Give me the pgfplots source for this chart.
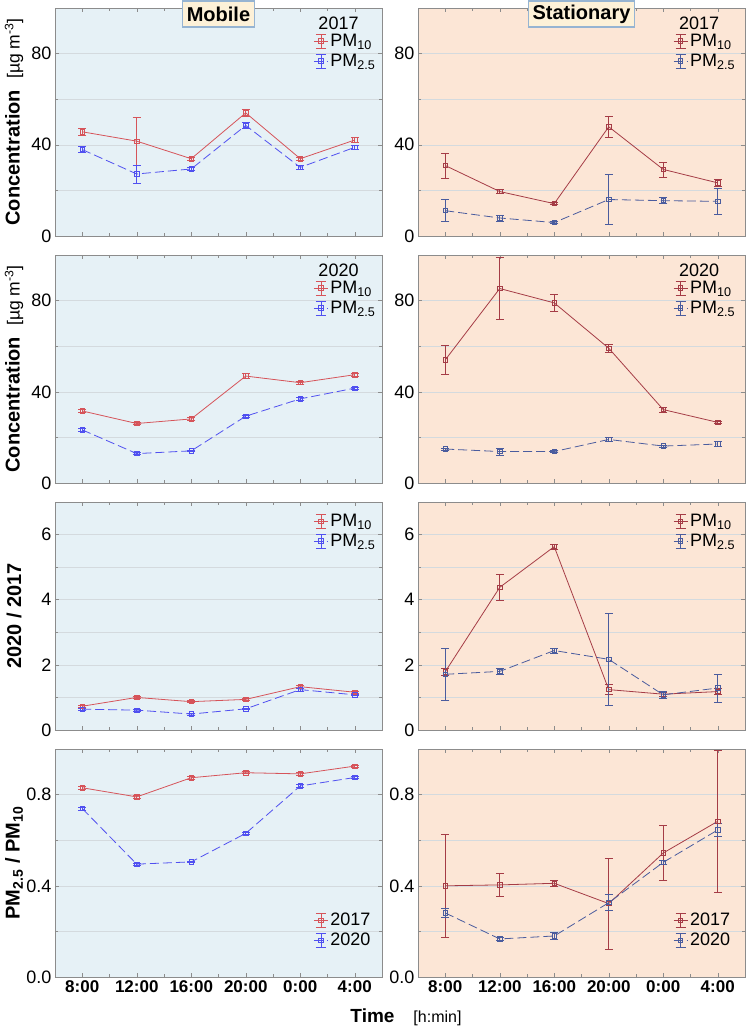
\documentclass[border=0pt]{standalone}
\usepackage{fontspec}
\setmainfont{Liberation Sans}
\usepackage{pgfplots}
\usepackage{pgfplotstable}
\pgfplotsset{compat=1.18}

\definecolor{mred}{RGB}{214,84,90}
\definecolor{mblue}{RGB}{80,80,240}
\definecolor{sred}{RGB}{165,60,70}
\definecolor{sblue}{RGB}{74,92,158}
\definecolor{mbg}{RGB}{230,241,246}
\definecolor{sbg}{RGB}{252,230,214}
\definecolor{gridc}{RGB}{212,218,222}
\definecolor{boxfill}{RGB}{253,241,216}
\definecolor{boxdraw}{RGB}{150,180,210}
\tikzset{dsh/.style={dash pattern=on 9pt off 4pt}}

% ---------- data: x y err ----------
\pgfplotstableread{
x y e
0 45.7 1.5
1 41.6 10.6
2 33.9 0.8
3 54.0 1.5
4 33.9 0.8
5 42.1 1.0
}\mAten
\pgfplotstableread{
x y e
0 37.9 1.3
1 27.2 4.0
2 29.4 0.7
3 48.5 1.5
4 30.1 0.7
5 38.9 0.8
}\mAtwo
\pgfplotstableread{
x y e
0 30.9 5.5
1 19.5 1.0
2 14.2 0.5
3 47.9 4.5
4 29.2 3.3
5 23.3 1.5
}\sAten
\pgfplotstableread{
x y e
0 11.1 4.8
1 7.9 1.3
2 5.9 0.5
3 16.0 11.0
4 15.5 1.3
5 15.2 5.7
}\sAtwo
\pgfplotstableread{
x y e
0 31.6 0.6
1 26.1 0.5
2 28.1 0.5
3 46.9 1.0
4 44.0 0.6
5 47.5 0.6
}\mBten
\pgfplotstableread{
x y e
0 23.3 0.5
1 12.9 0.4
2 14.1 0.4
3 29.3 0.5
4 36.9 0.5
5 41.6 0.5
}\mBtwo
\pgfplotstableread{
x y e
0 54.0 6.4
1 85.3 13.5
2 79.0 3.8
3 59.1 1.8
4 32.2 1.2
5 26.6 0.5
}\sBten
\pgfplotstableread{
x y e
0 14.9 0.5
1 13.8 1.5
2 13.8 0.5
3 19.1 1.0
4 16.2 0.5
5 17.1 1.0
}\sBtwo
\pgfplotstableread{
x y e
0 0.73 0.04
1 1.00 0.03
2 0.87 0.03
3 0.94 0.03
4 1.33 0.04
5 1.16 0.04
}\mCten
\pgfplotstableread{
x y e
0 0.64 0.03
1 0.61 0.03
2 0.49 0.03
3 0.65 0.03
4 1.24 0.04
5 1.08 0.03
}\mCtwo
\pgfplotstableread{
x y e
0 1.79 0.10
1 4.38 0.39
2 5.63 0.07
3 1.24 0.16
4 1.10 0.06
5 1.18 0.10
}\sCten
\pgfplotstableread{
x y e
0 1.71 0.80
1 1.80 0.10
2 2.44 0.08
3 2.17 1.42
4 1.08 0.10
5 1.29 0.43
}\sCtwo
\pgfplotstableread{
x y e
0 0.830 0.005
1 0.790 0.008
2 0.874 0.005
3 0.896 0.004
4 0.891 0.005
5 0.925 0.005
}\mDa
\pgfplotstableread{
x y e
0 0.739 0.006
1 0.495 0.004
2 0.505 0.004
3 0.630 0.004
4 0.838 0.005
5 0.875 0.004
}\mDb
\pgfplotstableread{
x y e
0 0.400 0.227
1 0.404 0.049
2 0.411 0.015
3 0.322 0.200
4 0.544 0.120
5 0.683 0.310
}\sDa
\pgfplotstableread{
x y e
0 0.281 0.020
1 0.167 0.005
2 0.180 0.015
3 0.326 0.035
4 0.503 0.010
5 0.645 0.030
}\sDb

\pgfplotsset{
  pan/.style={
    scale only axis, width=327pt, height=228pt, anchor=north west,
    xmin=-0.5, xmax=5.5, xtick={0,...,5}, minor x tick num=1, xticklabels={},
    tick align=inside, major tick length=4pt, minor tick length=3pt,
    tick style={draw=gray!90, line width=0.5pt},
    axis line style={draw=gray!90, line width=0.6pt},
    ymajorgrids, yminorgrids,
    major grid style={draw=gridc, line width=0.6pt},
    minor grid style={draw=gridc, line width=0.6pt},
    /pgf/number format/assume math mode=true,
    tick label style={font=\fontsize{18}{18}\selectfont},
    x tick label style={font=\bfseries\fontsize{17}{17}\selectfont},
    every axis y label/.style={at={(axis description cs:-0.125,0.5)}, rotate=90, anchor=center, font=\bfseries\fontsize{20}{20}\selectfont},
    legend style={draw=none, fill=none, font=\fontsize{18}{18}\selectfont, row sep=2pt, inner sep=0pt, anchor=north west},
    legend cell align=left,
    legend image code/.code={
      \draw[mark repeat=2, mark phase=2, ##1] plot coordinates {(0pt,0pt) (7pt,0pt) (14pt,0pt)};
      \draw[##1, solid, mark=none, line width=0.7pt] (7pt,-7pt) -- (7pt,7pt) (2pt,-7pt) -- (12pt,-7pt) (2pt,7pt) -- (12pt,7pt);
    },
  },
  mob/.style={pan, axis background/.style={fill=mbg}},
  sta/.style={pan, axis background/.style={fill=sbg}},
  conc/.style={ymin=0, ymax=100, ytick={0,40,80}, minor ytick={20,60}},
  ratio/.style={ymin=0, ymax=7, ytick={0,2,4,6}, minor ytick={1,3,5}},
  pmr/.style={ymin=0, ymax=1, ytick={0,0.4,0.8}, minor ytick={0.2,0.6},
    yticklabel style={/pgf/number format/.cd, fixed, fixed zerofill, precision=1}},
  ser/.style 2 args={color=#1, #2, line width=0.8pt, mark=square, mark size=2.2pt,
    mark options={solid, draw=#1, fill=none, line width=0.8pt},
    error bars/.cd, y dir=both, y explicit,
    error bar style={solid, line width=0.7pt, color=#1},
    error mark options={rotate=90, mark size=4pt, line width=0.7pt, color=#1, solid}},
}

\newcommand{\PMten}{PM\textsubscript{10}}
\newcommand{\PMtwo}{PM\textsubscript{2.5}}

\begin{document}
\begin{tikzpicture}
\path[use as bounding box] (0,0) rectangle (750pt,-1028pt);

% ---------------- Row 1 ----------------
\begin{axis}[mob, conc, name=a1, at={(55pt,-8pt)},
  ylabel={Concentration\ \ {\mdseries\fontsize{17.5}{17.5}\selectfont[µg m\textsuperscript{-3}]}},
  legend style={at={(rel axis cs:0.79,0.895)}}]
\addplot[ser={mred}{solid}] table[x=x,y=y,y error=e] {\mAten};
\addplot[ser={mblue}{dsh}] table[x=x,y=y,y error=e] {\mAtwo};
\legend{\PMten,\PMtwo}
\node[anchor=west, font=\fontsize{18}{18}\selectfont] at (rel axis cs:0.795,0.935) {2017};
\end{axis}

\begin{axis}[sta, conc, name=b1, at={(418pt,-8pt)},
  legend style={at={(rel axis cs:0.78,0.895)}}]
\addplot[ser={sred}{solid}] table[x=x,y=y,y error=e] {\sAten};
\addplot[ser={sblue}{dsh}] table[x=x,y=y,y error=e] {\sAtwo};
\legend{\PMten,\PMtwo}
\node[anchor=west, font=\fontsize{18}{18}\selectfont] at (rel axis cs:0.788,0.935) {2017};
\end{axis}

% ---------------- Row 2 ----------------
\begin{axis}[mob, conc, name=a2, at={(55pt,-255pt)},
  ylabel={Concentration\ \ {\mdseries\fontsize{17.5}{17.5}\selectfont[µg m\textsuperscript{-3}]}},
  legend style={at={(rel axis cs:0.79,0.895)}}]
\addplot[ser={mred}{solid}] table[x=x,y=y,y error=e] {\mBten};
\addplot[ser={mblue}{dsh}] table[x=x,y=y,y error=e] {\mBtwo};
\legend{\PMten,\PMtwo}
\node[anchor=west, font=\fontsize{18}{18}\selectfont] at (rel axis cs:0.795,0.935) {2020};
\end{axis}

\begin{axis}[sta, conc, name=b2, at={(418pt,-255pt)},
  legend style={at={(rel axis cs:0.78,0.895)}}]
\addplot[ser={sred}{solid}] table[x=x,y=y,y error=e] {\sBten};
\addplot[ser={sblue}{dsh}] table[x=x,y=y,y error=e] {\sBtwo};
\legend{\PMten,\PMtwo}
\node[anchor=west, font=\fontsize{18}{18}\selectfont] at (rel axis cs:0.788,0.935) {2020};
\end{axis}

% ---------------- Row 3 ----------------
\begin{axis}[mob, ratio, name=a3, at={(55pt,-502pt)},
  ylabel={2020 / 2017},
  legend style={at={(rel axis cs:0.79,0.956)}}]
\addplot[ser={mred}{solid}] table[x=x,y=y,y error=e] {\mCten};
\addplot[ser={mblue}{dsh}] table[x=x,y=y,y error=e] {\mCtwo};
\legend{\PMten,\PMtwo}
\end{axis}

\begin{axis}[sta, ratio, name=b3, at={(418pt,-502pt)},
  legend style={at={(rel axis cs:0.78,0.956)}}]
\addplot[ser={sred}{solid}] table[x=x,y=y,y error=e] {\sCten};
\addplot[ser={sblue}{dsh}] table[x=x,y=y,y error=e] {\sCtwo};
\legend{\PMten,\PMtwo}
\end{axis}

% ---------------- Row 4 ----------------
\begin{axis}[mob, pmr, name=a4, at={(55pt,-749pt)},
  xticklabels={8:00,12:00,16:00,20:00,0:00,4:00},
  ylabel={PM\textsubscript{2.5} / PM\textsubscript{10}},
  legend style={at={(rel axis cs:0.79,0.29)}}]
\addplot[ser={mred}{solid}] table[x=x,y=y,y error=e] {\mDa};
\addplot[ser={mblue}{dsh}] table[x=x,y=y,y error=e] {\mDb};
\legend{2017,2020}
\end{axis}

\begin{axis}[sta, pmr, name=b4, at={(418pt,-749pt)},
  xticklabels={8:00,12:00,16:00,20:00,0:00,4:00},
  legend style={at={(rel axis cs:0.78,0.29)}}]
\addplot[ser={sred}{solid}] table[x=x,y=y,y error=e] {\sDa};
\addplot[ser={sblue}{dsh}] table[x=x,y=y,y error=e] {\sDb};
\legend{2017,2020}
\end{axis}

% ---------------- Titles ----------------
\node[draw=boxdraw, line width=1.2pt, fill=boxfill, font=\bfseries\fontsize{20}{20}\selectfont,
  inner xsep=4pt, inner ysep=0pt, minimum height=26pt] at ([yshift=-6pt]a1.north) {Mobile};
\node[draw=boxdraw, line width=1.2pt, fill=boxfill, font=\bfseries\fontsize{20}{20}\selectfont,
  inner xsep=4pt, inner ysep=0pt, minimum height=26pt] at ([yshift=-6pt]b1.north) {Stationary};

\node[font=\bfseries\fontsize{19}{19}\selectfont] at (406pt,-1017pt)
  {Time\quad{\mdseries\fontsize{16}{16}\selectfont[h:min]}};
\end{tikzpicture}
\end{document}
